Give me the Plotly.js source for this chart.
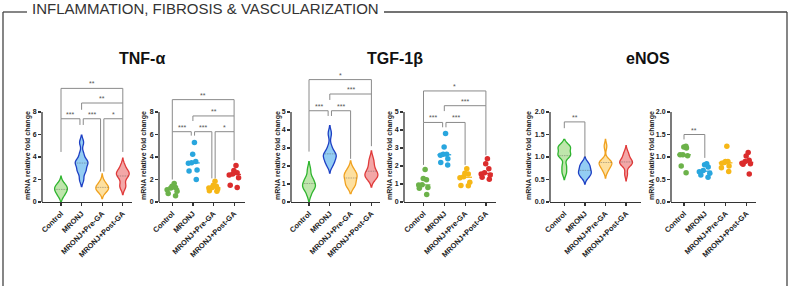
<!DOCTYPE html>
<html>
<head>
<meta charset="utf-8">
<script src="https://cdn.plot.ly/plotly-3.0.1.min.js"></script>
<style>
  html, body { margin: 0; padding: 0; background: #ffffff; }
  #chart { width: 794px; height: 286px; }
</style>
</head>
<body>
<div id="chart"></div>
<script>
// Treatment groups (x categories of every subplot)
const groups = ["Control", "MRONJ", "MRONJ+Pre-GA", "MRONJ+Post-GA"];

// TNF-α mRNA relative fold change, n = 8 per group
const tnfControl = [1.65, 1.4, 1.3, 1.25, 1.1, 0.95, 0.75, 0.55];
const tnfMronj   = [5.3, 4.25, 3.6, 3.5, 3.45, 2.85, 2.75, 2.0];
const tnfPreGA   = [1.85, 1.5, 1.4, 1.3, 1.25, 1.15, 1.0, 0.95];
const tnfPostGA  = [3.25, 2.8, 2.6, 2.5, 2.4, 2.15, 1.5, 1.3];

// TGF-1β mRNA relative fold change
const tgfControl = [1.8, 1.3, 1.24, 0.96, 0.94, 0.8, 0.76, 0.41];
const tgfMronj   = [3.8, 3.05, 2.65, 2.65, 2.6, 2.4, 2.2, 2.05];
const tgfPreGA   = [1.85, 1.6, 1.55, 1.4, 1.35, 1.1, 0.92, 0.9];
const tgfPostGA  = [2.4, 2.12, 1.85, 1.62, 1.55, 1.5, 1.38, 1.27];

// eNOS mRNA relative fold change
const enosControl = [1.24, 1.22, 1.2, 1.05, 1.05, 1.03, 0.8, 0.65];
const enosMronj   = [0.85, 0.83, 0.78, 0.7, 0.67, 0.64, 0.6, 0.55];
const enosPreGA   = [1.24, 0.9, 0.9, 0.88, 0.86, 0.8, 0.76, 0.68];
const enosPostGA  = [1.1, 1.02, 0.93, 0.9, 0.86, 0.85, 0.84, 0.62];

// y-axis tick values per gene
const tnfTicks  = [0, 2, 4, 6, 8];
const tgfTicks  = [0, 1, 2, 3, 4, 5];
const enosTicks = [0, 0.5, 1.0, 1.5, 2.0];

// Significance comparisons: [group a, group b, label]
const tnfViolinSig  = [[0, 3, "**"], [1, 3, "**"], [0, 1, "***"], [1, 2, "***"], [2, 3, "*"]];
const tnfDotSig     = [[0, 3, "**"], [1, 3, "**"], [0, 1, "***"], [1, 2, "***"], [2, 3, "*"]];
const tgfViolinSig  = [[0, 3, "*"], [1, 3, "***"], [0, 1, "***"], [1, 2, "***"]];
const tgfDotSig     = [[0, 3, "*"], [1, 3, "***"], [0, 1, "***"], [1, 2, "***"]];
const enosViolinSig = [[0, 1, "**"]];
const enosDotSig    = [[0, 1, "**"]];

// ---------- styling & layout ----------
const W = 794, H = 286;
const FONT = "'Liberation Sans', Arial, sans-serif";
const violinLine = ["#2fb52f", "#1d3fc4", "#f0a11e", "#e03a3a"];
const violinFill = ["#bfe6ac", "#93cdf3", "#fde0a0", "#f3a7a7"];
const dotColor   = ["#6cb24a", "#29a6de", "#f6b717", "#db2c2c"];
const AXIS = "#333333";
const BRACKET = "#8a8a8a";

const PY_ZERO = 202, PY_TOPTICK = 112, PY_TOP = 70;   // pixel rows of y=0, top tick, plot top

// bracket geometry: [bar level, left leg end, right leg end] in data units, same order as the *Sig arrays
const panels = [
  { kind: "violin", data: [tnfControl, tnfMronj, tnfPreGA, tnfPostGA], ticks: tnfTicks, fmt: "", bw: 0.32,
    axL: 42, c0: 61, step: 20.6, axR: 132, ytitleX: 28, sig: tnfViolinSig,
    geo: [[10.1, 7.4, 8.8], [8.8, 8.2, 7.4], [7.4, 4.45, 6.85], [7.4, 6.85, 2.7], [7.4, 2.7, 4.45]] },
  { kind: "dots", data: [tnfControl, tnfMronj, tnfPreGA, tnfPostGA], ticks: tnfTicks, fmt: "",
    axL: 159, c0: 172.3, step: 20.6, axR: 245, ytitleX: 144, sig: tnfDotSig,
    geo: [[9.1, 6.25, 7.65], [7.65, 7.2, 6.25], [6.25, 2.0, 5.9], [6.25, 5.9, 2.1], [6.25, 2.1, 3.7]] },
  { kind: "violin", data: [tgfControl, tgfMronj, tgfPreGA, tgfPostGA], ticks: tgfTicks, fmt: "", bw: 0.22,
    axL: 291, c0: 309, step: 20.8, axR: 380, ytitleX: 278, sig: tgfViolinSig,
    geo: [[6.8, 5.07, 6.0], [6.0, 5.67, 3.1], [5.07, 2.8, 4.78], [5.07, 4.78, 2.4]] },
  { kind: "dots", data: [tgfControl, tgfMronj, tgfPreGA, tgfPostGA], ticks: tgfTicks, fmt: "",
    axL: 404, c0: 423.5, step: 20.8, axR: 496, ytitleX: 390, sig: tgfDotSig,
    geo: [[6.17, 4.42, 5.35], [5.35, 5.05, 2.6], [4.42, 2.06, 4.15], [4.42, 4.15, 2.06]] },
  { kind: "violin", data: [enosControl, enosMronj, enosPreGA, enosPostGA], ticks: enosTicks, fmt: ".1f", bw: 0.075,
    axL: 550, c0: 564.3, step: 20.6, axR: 641, ytitleX: 529, sig: enosViolinSig,
    geo: [[1.78, 1.64, 1.0]] },
  { kind: "dots", data: [enosControl, enosMronj, enosPreGA, enosPostGA], ticks: enosTicks, fmt: ".1f",
    axL: 671, c0: 684, step: 20.8, axR: 756, ytitleX: 652, sig: enosDotSig,
    geo: [[1.5, 1.39, 0.98]] }
];

const median = arr => {
  const s = arr.slice().sort((a, b) => a - b);
  const m = Math.floor(s.length / 2);
  return s.length % 2 ? s[m] : (s[m - 1] + s[m]) / 2;
};

const traces = [];
const layout = {
  width: W, height: H,
  margin: { l: 0, r: 0, t: 0, b: 0 },
  paper_bgcolor: "#ffffff", plot_bgcolor: "#ffffff",
  showlegend: false,
  violinmode: "overlay", boxmode: "overlay",
  font: { family: FONT, color: "#222" },
  shapes: [], annotations: []
};

const yDom = [(H - PY_ZERO) / H, (H - PY_TOP) / H];

panels.forEach((p, k) => {
  const n = k + 1;
  const xk = n === 1 ? "x" : "x" + n, yk = n === 1 ? "y" : "y" + n;
  const xName = n === 1 ? "xaxis" : "xaxis" + n, yName = n === 1 ? "yaxis" : "yaxis" + n;
  const topTick = p.ticks[p.ticks.length - 1];
  const yMax = topTick * (PY_ZERO - PY_TOP) / (PY_ZERO - PY_TOPTICK);

  layout[xName] = {
    domain: [p.axL / W, p.axR / W], anchor: yk, type: "linear",
    range: [(p.axL - p.c0) / p.step, (p.axR - p.c0) / p.step],
    tickvals: [0, 1, 2, 3], ticktext: groups, tickangle: -45,
    ticks: "outside", ticklen: 3, tickwidth: 1.2, tickcolor: AXIS,
    showline: true, linecolor: AXIS, linewidth: 1.3,
    showgrid: false, zeroline: false, fixedrange: true,
    tickfont: { family: FONT, size: 7.5, weight: 700, color: "#222" }
  };
  layout[yName] = {
    domain: yDom, anchor: xk, type: "linear", range: [0, yMax],
    tickvals: p.ticks, tickformat: p.fmt,
    ticks: "outside", ticklen: 3, tickwidth: 1.2, tickcolor: AXIS,
    showline: false, showgrid: false, zeroline: false, fixedrange: true,
    tickfont: { family: FONT, size: 7, weight: 700, color: "#222" }
  };
  // y axis line stops at the top tick
  layout.shapes.push({
    type: "line", xref: xk + " domain", yref: yk, x0: 0, x1: 0, y0: 0, y1: topTick,
    line: { color: AXIS, width: 1.3 }
  });

  p.data.forEach((vals, i) => {
    if (p.kind === "violin") {
      traces.push({
        type: "violin", x0: i, y: vals, xaxis: xk, yaxis: yk, name: groups[i],
        width: 0.62, scalemode: "width", points: false, bandwidth: p.bw,
        line: { color: violinLine[i], width: 1.3 }, fillcolor: violinFill[i],
        meanline: { visible: true, color: "rgba(70,70,70,0.45)", width: 0.8 },
        box: { visible: false }, hoverinfo: "skip"
      });
    } else {
      traces.push({
        type: "box", x0: i, y: vals, xaxis: xk, yaxis: yk, name: groups[i],
        boxpoints: "all", jitter: 0.9, pointpos: 0, width: 0.7,
        marker: { color: dotColor[i], size: 5.5 },
        line: { color: "rgba(0,0,0,0)", width: 0 }, fillcolor: "rgba(0,0,0,0)",
        hoverinfo: "skip"
      });
      const m = median(vals);
      layout.shapes.push({
        type: "line", xref: xk, yref: yk, x0: i - 0.33, x1: i + 0.33, y0: m, y1: m,
        line: { color: dotColor[i], width: 1.3 }
      });
    }
  });

  // significance brackets; ends shared with a neighbour at the same level are inset
  const inset = 0.08;
  p.sig.forEach(([a, b, label], s) => {
    const [yb, yl, yr] = p.geo[s];
    const shared = (cat, self) => p.sig.some(([a2, b2], s2) =>
      s2 !== self && p.geo[s2][0] === yb && (a2 === cat || b2 === cat));
    const xa = a + (shared(a, s) ? inset : 0);
    const xb = b - (shared(b, s) ? inset : 0);
    layout.shapes.push({
      type: "path", xref: xk, yref: yk,
      path: `M ${xa},${yl} L ${xa},${yb} L ${xb},${yb} L ${xb},${yr}`,
      line: { color: BRACKET, width: 1 }
    });
    layout.annotations.push({
      xref: xk, yref: yk, x: (xa + xb) / 2, y: yb, yanchor: "bottom", yshift: -1,
      text: label, showarrow: false,
      font: { family: FONT, size: 7, color: "#555" }
    });
  });

  layout.annotations.push({
    xref: "paper", yref: "paper", x: p.ytitleX / W, y: 1 - 156 / H,
    xanchor: "center", yanchor: "middle", textangle: -90, showarrow: false,
    text: "mRNA relative fold change",
    font: { family: FONT, size: 7, weight: 700, color: "#222" }
  });
});

// gene titles above each pair of subplots
[["TNF-α", 142], ["TGF-1β", 395], ["eNOS", 648]].forEach(([t, cx]) => {
  layout.annotations.push({
    xref: "paper", yref: "paper", x: cx / W, y: 1 - 58 / H,
    xanchor: "center", yanchor: "middle", showarrow: false, text: t,
    font: { family: FONT, size: 16, weight: 700, color: "#111" }
  });
});

// section header and its frame
layout.annotations.push({
  xref: "paper", yref: "paper", x: 30 / W, y: 1 - 9 / H,
  xanchor: "left", yanchor: "middle", showarrow: false,
  text: "INFLAMMATION, FIBROSIS & VASCULARIZATION",
  font: { family: FONT, size: 15, color: "#333" }
});
const FRAME = { color: "#444", width: 1.3 };
const py = v => 1 - v / H, px = v => v / W;
layout.shapes.push(
  { type: "line", xref: "paper", yref: "paper", x0: px(3), x1: px(27), y0: py(12), y1: py(12), line: FRAME },
  { type: "line", xref: "paper", yref: "paper", x0: px(384), x1: px(787), y0: py(12), y1: py(12), line: FRAME },
  { type: "line", xref: "paper", yref: "paper", x0: px(3), x1: px(3), y0: py(12), y1: py(286), line: FRAME },
  { type: "line", xref: "paper", yref: "paper", x0: px(787), x1: px(787), y0: py(12), y1: py(286), line: FRAME }
);

Plotly.newPlot("chart", traces, layout, { staticPlot: true, displayModeBar: false });
</script>
</body>
</html>
